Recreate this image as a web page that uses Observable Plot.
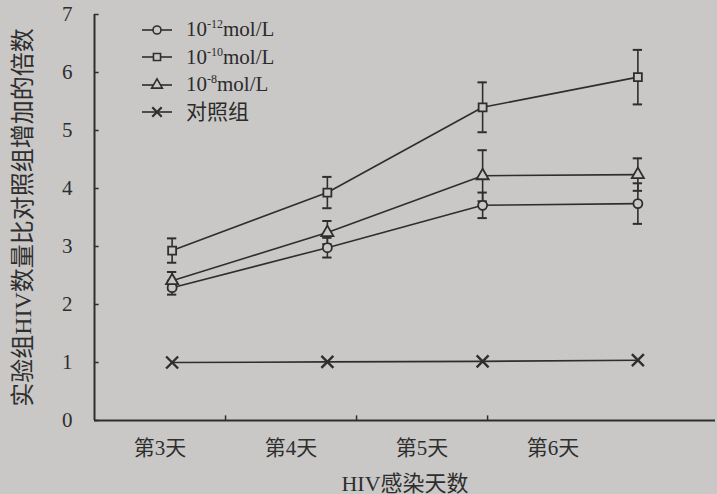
<!DOCTYPE html>
<html><head><meta charset="utf-8">
<script src="https://cdn.jsdelivr.net/npm/d3@7"></script>
<script src="https://cdn.jsdelivr.net/npm/@observablehq/plot@0.6"></script>
<style>
html,body{margin:0;padding:0;background:#c9c8c6;}
#wrap{position:relative;width:717px;height:494px;overflow:hidden;font-family:"Liberation Serif","Noto Sans CJK SC",serif;color:#2b2b2b;}
#legend{position:absolute;left:141px;top:16px;font-size:21px;line-height:27.5px;}
#legend .row{display:flex;align-items:center;height:27.5px;}
#legend svg{margin-right:13px;}
#legend sup{font-size:12px;vertical-align:8px;line-height:0;}
</style></head>
<body><div id="wrap"><div id="chart"></div><div id="legend"></div></div>
<script>
const days = [3, 4, 5, 6];
const dayLabels = ["第3天", "第4天", "第5天", "第6天"];
const seriesNames = ["1e-12", "1e-10", "1e-8", "ctrl"];
const legendExp = ["-12", "-10", "-8"];
const vals12 = [2.29, 2.98, 3.71, 3.74];
const err12 = [0.12, 0.17, 0.22, 0.35];
const vals10 = [2.93, 3.93, 5.40, 5.92];
const err10 = [0.21, 0.27, 0.43, 0.47];
const vals8 = [2.41, 3.24, 4.22, 4.24];
const err8 = [0.15, 0.20, 0.44, 0.28];
const valsCtrl = [1.00, 1.01, 1.02, 1.04];
const yTicks = [0, 1, 2, 3, 4, 5, 6, 7];

const ink = "#2e2e2e";
const bg = "#c9c8c6";
const symbols = {"1e-12": "circle", "1e-10": "square", "1e-8": "triangle", "ctrl": "times"};

const allVals = [vals12, vals10, vals8, valsCtrl];
const allErr = [err12, err10, err8, null];
const rows = [];
seriesNames.forEach((s, k) => days.forEach((d, i) => rows.push({
  series: s, day: d, v: allVals[k][i], e: allErr[k] ? allErr[k][i] : 0
})));
const errRows = rows.filter(r => r.e > 0);

// axis band layout (the printed axis labels sit in equal bands, offset from the data columns)
const x0 = 2.5, band = 0.844, capW = 0.03;
const labelPos = dayLabels.map((_, i) => x0 + (i + 0.5) * band);
const tickPos = [1, 2, 3].map(i => x0 + i * band);

const font = "Liberation Serif, Noto Sans CJK SC, serif";
const chart = Plot.plot({
  width: 717, height: 494,
  marginLeft: 94, marginRight: 2, marginTop: 14, marginBottom: 74,
  style: {background: "transparent", fontFamily: font, color: ink},
  x: {type: "linear", domain: [2.5, 6.5]},
  y: {domain: [0, 7]},
  marks: [
    Plot.ruleX([x0], {y1: 0, y2: 7, stroke: ink, strokeWidth: 2}),
    Plot.ruleY([0], {stroke: ink, strokeWidth: 2}),
    Plot.ruleY(yTicks, {x1: x0, x2: x0 + 0.03, y: d => d, stroke: ink, strokeWidth: 1.5}),
    Plot.ruleX(tickPos, {x: d => d, y1: 0, y2: 0.08, stroke: ink, strokeWidth: 1.5}),
    Plot.axisY(yTicks, {tickSize: 0, tickPadding: 22, fontSize: 21, tickFormat: d => d,
      label: "实验组HIV数量比对照组增加的倍数", labelAnchor: "center", labelArrow: "none", labelOffset: 81}),
    Plot.axisX(labelPos, {tickSize: 0, tickPadding: 20, fontSize: 21, tickFormat: (d, i) => dayLabels[i],
      label: "HIV感染天数", labelAnchor: "center", labelArrow: "none", labelOffset: 70}),
    Plot.lineY(rows, {x: "day", y: "v", z: "series", stroke: ink, strokeWidth: 1.6}),
    Plot.ruleX(errRows, {x: "day", y1: d => d.v - d.e, y2: d => d.v + d.e, stroke: ink, strokeWidth: 1.6}),
    Plot.ruleY(errRows, {x1: d => d.day - capW, x2: d => d.day + capW, y: d => d.v + d.e, stroke: ink, strokeWidth: 2}),
    Plot.ruleY(errRows, {x1: d => d.day - capW, x2: d => d.day + capW, y: d => d.v - d.e, stroke: ink, strokeWidth: 2}),
    Plot.dot(rows.filter(r => r.series !== "ctrl"), {x: "day", y: "v", symbol: d => symbols[d.series], r: 4.5, stroke: ink, fill: bg, strokeWidth: 1.8}),
    Plot.dot(rows.filter(r => r.series === "ctrl"), {x: "day", y: "v", symbol: "times", r: 5.5, stroke: ink, strokeWidth: 2.4})
  ],
  symbol: {type: "identity"}
});
document.getElementById("chart").appendChild(chart);
chart.querySelectorAll("text").forEach(t => {
  if (t.closest('[aria-label="y-axis label"]')) t.setAttribute("font-size", 24);
  if (t.closest('[aria-label="x-axis label"]')) t.setAttribute("font-size", 22);
});

// legend
const legend = document.getElementById("legend");
seriesNames.forEach((s, k) => {
  const row = document.createElement("div");
  row.className = "row";
  const svg = d3.create("svg").attr("width", 32).attr("height", 16);
  svg.append("line").attr("x1", 1).attr("x2", 31).attr("y1", 8).attr("y2", 8).attr("stroke", ink).attr("stroke-width", 1.6);
  const sym = {circle: d3.symbolCircle, square: d3.symbolSquare, triangle: d3.symbolTriangle, times: d3.symbolTimes}[symbols[s]];
  const size = s === "ctrl" ? 60 : 50;
  svg.append("path").attr("transform", "translate(16,8)").attr("d", d3.symbol(sym, size)())
    .attr("fill", s === "ctrl" ? "none" : bg).attr("stroke", ink).attr("stroke-width", s === "ctrl" ? 2.2 : 1.6);
  row.appendChild(svg.node());
  const label = document.createElement("span");
  if (s === "ctrl") label.textContent = "对照组";
  else label.innerHTML = "10<sup>" + legendExp[k] + "</sup>mol/L";
  row.appendChild(label);
  legend.appendChild(row);
});
</script></body></html>
